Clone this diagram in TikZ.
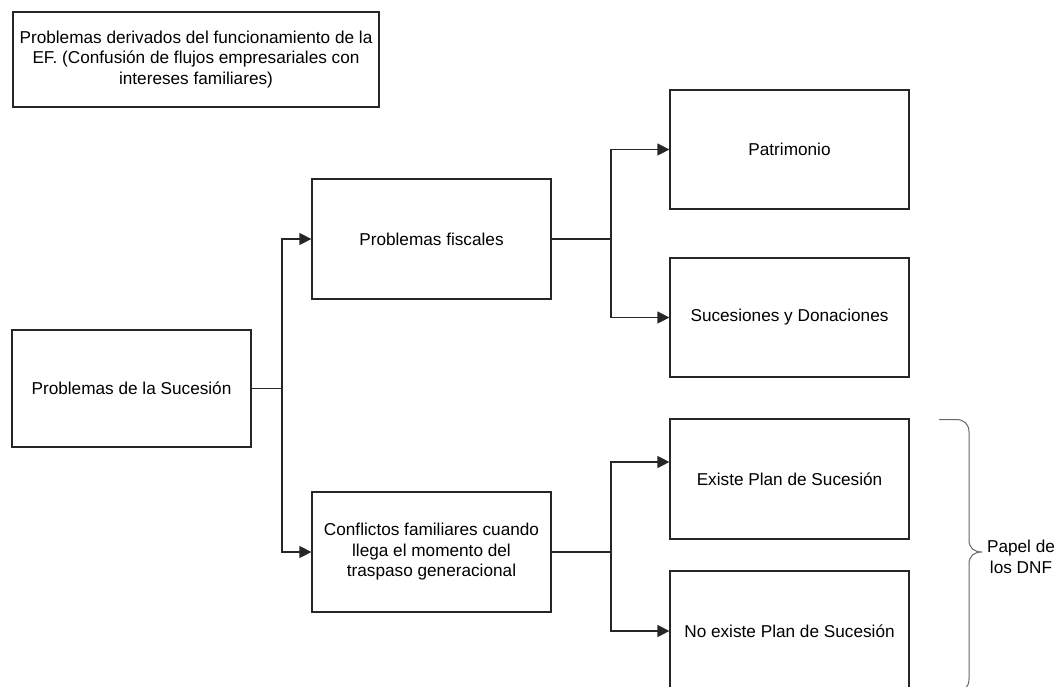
\documentclass[tikz,border=0pt]{standalone}
\usepackage{fontspec}
\setmainfont{Liberation Sans}
\usetikzlibrary{arrows.meta}
\begin{document}
\begin{tikzpicture}[x=1pt,y=-1pt,
  box/.style={draw=black!85,line width=1.2pt,inner sep=0pt,align=center,font=\fontsize{17.2}{20.5}\selectfont},
  arr/.style={draw=black!85,line width=1.2pt,-{Triangle[length=12pt,width=12pt]}},
  conn/.style={draw=black!85,line width=1.2pt}]
\clip (0,0) rectangle (1058,686);
\node[box,minimum width=366pt,minimum height=95pt] (top) at (196,59.5) {Problemas derivados del funcionamiento de la\\EF. (Confusión de flujos empresariales con\\intereses familiares)};
\node[box,minimum width=239pt,minimum height=117pt] (pds) at (131.5,388.5) {Problemas de la Sucesión};
\node[box,minimum width=239pt,minimum height=120pt] (pf) at (431.5,239) {Problemas fiscales};
\node[box,minimum width=239pt,minimum height=120pt] (cf) at (431.5,552) {Conflictos familiares cuando\\llega el momento del\\traspaso generacional};
\node[box,minimum width=239pt,minimum height=119pt] (pat) at (789.5,149.5) {Patrimonio};
\node[box,minimum width=239pt,minimum height=119pt] (suc) at (789.5,317.5) {Sucesiones y Donaciones};
\node[box,minimum width=239pt,minimum height=120pt] (ex) at (789.5,479) {Existe Plan de Sucesión};
\node[box,minimum width=239pt,minimum height=120pt] (nex) at (789.5,631) {No existe Plan de Sucesión};
\coordinate (j1) at (282,388.5);
\coordinate (j2) at (611,239);
\coordinate (j3) at (611,552);
\draw[conn] (pds.east) -- (j1);
\draw[arr] (j1) |- (pf.west);
\draw[arr] (j1) |- (cf.west);
\draw[conn] (pf.east) -- (j2);
\draw[arr] (j2) |- (pat.west);
\draw[arr] (j2) |- (suc.west);
\draw[conn] (cf.east) -- (j3);
\draw[arr] (j3) |- ([yshift=17pt]ex.west);
\draw[arr] (j3) |- (nex.west);
\coordinate (bt) at (939,419.5);
\coordinate (bb) at (939,692);
\coordinate (btip) at (982,552);
\draw[black!60,line width=1pt] (bt) -- (956,419.5) .. controls (964,419.5) and (969,424) .. (969,432) -- (969,540) .. controls (969,548) and (974,552) .. (btip) .. controls (974,552) and (969,556) .. (969,564) -- (969,679) .. controls (969,687) and (964,692) .. (956,692) -- (bb);
\node[font=\fontsize{17.2}{20.5}\selectfont,align=center,inner sep=0pt] (dnf) at (1021,557) {Papel de\\los DNF};
\end{tikzpicture}
\end{document}
